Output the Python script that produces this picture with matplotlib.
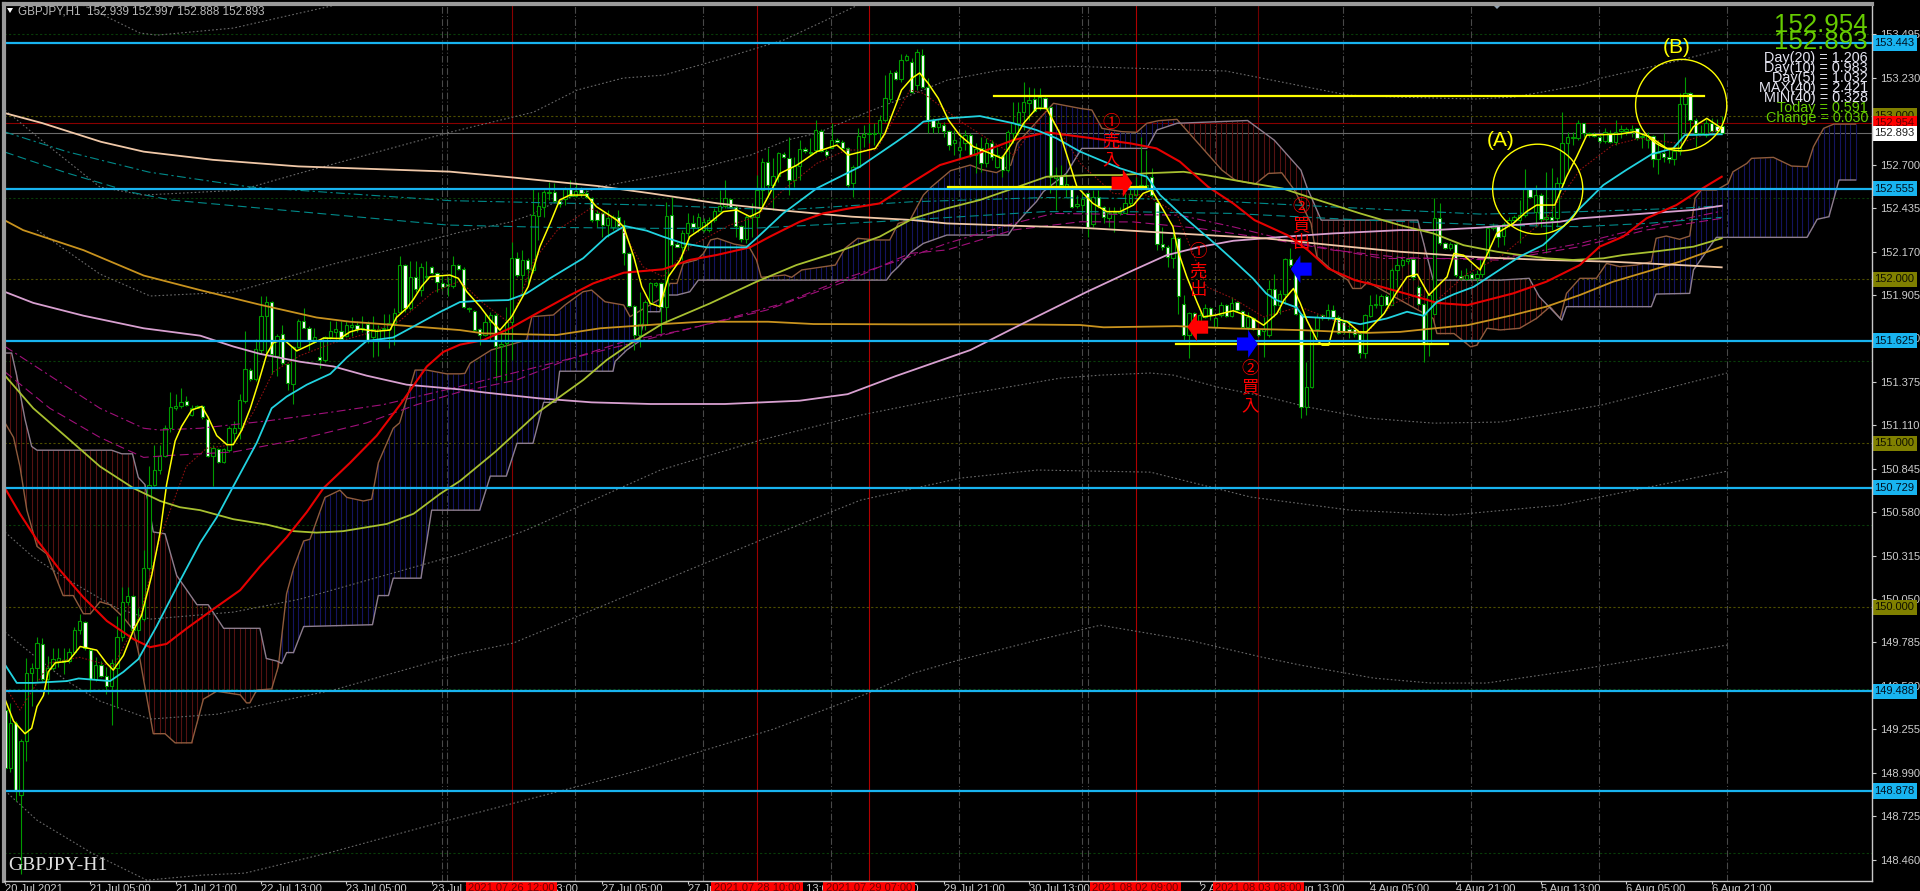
import numpy as np
import matplotlib
matplotlib.use("Agg")
import matplotlib.pyplot as plt
from matplotlib.patches import Ellipse

# GBPJPY H1 candles, one value per bar
opens = [149.372,149.017,149.294,148.853,149.183,149.598,149.627,149.776,149.561,149.627,
149.671,149.665,149.671,149.727,149.860,149.909,149.738,149.561,149.649,149.583,
149.516,149.627,149.816,150.033,150.071,149.860,149.927,150.237,150.748,150.836,
150.921,151.092,151.214,151.225,151.258,151.174,151.218,151.229,151.147,150.925,
150.963,150.888,150.958,151.063,151.092,151.258,151.447,151.391,151.569,151.780,
151.862,151.535,151.669,151.484,151.365,151.586,151.746,151.706,151.618,151.529,
151.507,151.646,151.680,151.684,151.657,151.711,151.720,151.695,151.728,151.646,
151.635,151.695,151.697,151.735,151.802,152.090,151.824,152.017,151.935,152.013,
152.079,152.039,151.977,151.975,151.961,152.090,
152.062,151.820,151.807,151.695,151.661,151.742,151.783,151.594,151.610,151.742,
152.129,152.027,152.119,152.058,152.387,152.444,152.525,152.536,152.481,152.489,
152.550,152.509,152.550,152.530,152.495,152.403,152.403,152.332,152.322,152.383,
152.332,152.163,151.838,151.661,151.722,151.854,151.966,151.980,151.830,152.393,
152.216,152.200,152.285,152.346,152.322,152.302,152.302,152.363,152.420,152.450,
152.489,152.444,152.326,152.245,152.383,152.383,152.546,152.719,152.576,152.631,
152.765,152.739,152.607,152.692,152.794,152.780,152.790,152.908,152.786,152.800,
152.851,152.841,152.800,152.586,152.688,152.871,152.885,152.885,152.891,152.973,
153.099,153.268,153.221,153.339,
153.330,153.186,153.370,153.172,152.973,152.932,152.942,152.908,152.830,152.790,
152.830,152.881,152.759,152.800,152.713,152.835,152.684,152.753,152.668,152.896,
152.953,153.024,153.075,153.099,153.050,153.105,153.050,152.617,152.631,152.570,
152.566,152.448,152.454,152.525,152.338,152.501,152.440,152.373,152.403,152.407,
152.407,152.464,152.515,152.566,152.562,152.623,152.475,152.216,152.200,152.129,
152.250,151.853,151.660,151.796,151.711,151.772,151.823,151.711,151.782,151.847,
151.776,151.864,151.809,151.707,151.766,151.695,151.687,151.660,151.939,151.843,
151.914,152.122,152.057,151.788,151.219,151.345,151.695,151.782,151.772,151.813,
151.772,151.742,151.695,151.695,151.670,151.552,151.778,151.843,151.843,151.898,
151.847,152.057,152.091,152.114,152.122,151.955,151.853,151.609,151.792,152.372,
152.220,152.195,152.215,152.024,152.002,152.032,152.006,152.036,152.128,152.311,
152.325,152.265,152.336,152.363,152.363,152.393,152.550,152.413,152.515,152.367,
152.379,152.373,152.586,152.830,152.861,152.861,152.952,152.881,152.887,152.867,
152.847,152.891,152.841,152.908,152.908,152.912,152.922,152.867,152.851,152.875,
152.733,152.773,152.745,152.733,152.786,153.070,153.136,152.973,152.896,152.881,
152.957,152.936,152.939]

closes = [149.017,149.294,148.884,149.183,149.598,149.627,149.780,149.561,149.627,149.683,
149.687,149.678,149.727,149.860,149.916,149.749,149.561,149.649,149.583,149.516,
149.660,149.816,150.033,150.071,149.860,149.927,150.237,150.748,150.836,150.921,
151.092,151.220,151.225,151.254,151.236,151.218,151.229,151.158,150.925,150.970,
150.888,150.965,151.092,151.092,151.267,151.453,151.391,151.573,151.780,151.862,
151.546,151.653,151.491,151.369,151.586,151.746,151.706,151.624,151.646,151.507,
151.646,151.684,151.697,151.635,151.720,151.724,151.697,151.706,151.631,151.697,
151.697,151.706,151.735,151.795,152.090,151.824,152.017,151.939,152.079,152.021,
152.039,151.986,151.955,151.959,152.090,152.064,
151.834,151.825,151.691,151.661,151.742,151.783,151.594,151.606,151.742,152.129,
152.027,152.119,152.062,152.393,152.450,152.536,152.530,152.481,152.460,152.550,
152.509,152.542,152.530,152.501,152.363,152.363,152.332,152.373,152.383,152.326,
152.159,151.838,151.661,151.728,151.864,151.980,151.980,151.834,152.389,152.210,
152.200,152.285,152.346,152.322,152.383,152.352,152.363,152.420,152.450,152.495,
152.444,152.326,152.245,152.379,152.393,152.546,152.719,152.576,152.631,152.769,
152.745,152.607,152.692,152.794,152.786,152.769,152.912,152.786,152.759,152.851,
152.841,152.800,152.576,152.688,152.875,152.885,152.890,152.890,152.973,153.105,
153.262,153.221,153.339,153.365,
153.143,153.388,153.176,152.973,152.932,152.953,152.908,152.820,152.851,152.810,
152.881,152.759,152.794,152.713,152.830,152.745,152.759,152.668,152.902,152.953,
153.024,153.085,153.095,153.030,153.111,153.044,152.627,152.637,152.576,152.582,
152.444,152.460,152.489,152.318,152.505,152.448,152.383,152.407,152.414,152.420,
152.464,152.521,152.570,152.576,152.574,152.515,152.216,152.200,152.135,152.251,
151.898,151.660,151.796,151.772,151.782,151.823,151.782,151.762,151.843,151.778,
151.859,151.813,151.711,151.772,151.695,151.664,151.695,151.939,151.843,151.914,
152.122,152.087,151.788,151.219,151.345,151.691,151.772,151.762,151.813,151.772,
151.674,151.680,151.682,151.666,151.552,151.782,151.847,151.853,151.898,151.847,
152.057,152.091,152.118,152.122,152.012,151.853,151.609,151.904,152.372,152.220,
152.193,152.215,152.026,152.006,152.030,152.010,152.036,152.128,152.311,152.325,
152.260,152.336,152.363,152.379,152.393,152.556,152.501,152.515,152.367,152.379,
152.363,152.586,152.830,152.867,152.871,152.957,152.891,152.891,152.875,152.847,
152.902,152.841,152.902,152.916,152.916,152.920,152.861,152.875,152.875,152.733,
152.773,152.745,152.733,152.786,153.070,153.136,152.973,152.896,152.887,152.957,
152.908,152.908,152.893]

highs = [149.439,149.416,149.305,149.194,149.687,149.660,149.816,149.811,149.705,149.749,
149.749,149.749,149.749,149.882,149.960,149.916,149.749,149.694,149.671,149.638,
149.683,149.949,150.126,150.126,150.075,149.993,150.348,150.859,150.992,150.992,
151.114,151.314,151.302,151.336,151.291,151.236,151.236,151.236,151.169,150.992,
150.970,150.970,151.103,151.136,151.302,151.684,151.458,151.635,151.902,151.902,
151.868,151.669,151.724,151.491,151.591,151.757,151.824,151.713,151.702,151.624,
151.657,151.746,151.746,151.746,151.746,151.768,151.746,151.779,151.746,151.779,
151.724,151.791,151.791,151.824,152.146,152.095,152.112,152.112,152.101,152.112,
152.084,152.046,152.024,152.012,152.146,152.097,
152.078,151.834,151.813,151.702,151.793,151.803,151.793,151.671,151.834,152.230,
152.169,152.180,152.129,152.556,152.536,152.546,152.597,152.586,152.485,152.566,
152.607,152.597,152.566,152.546,152.505,152.424,152.413,152.424,152.393,152.424,
152.363,152.169,151.844,151.925,151.875,151.986,151.986,151.986,152.475,152.505,
152.230,152.302,152.403,152.393,152.403,152.373,152.383,152.434,152.546,152.607,
152.495,152.454,152.332,152.393,152.464,152.637,152.739,152.800,152.739,152.780,
152.780,152.871,152.749,152.851,152.810,152.861,152.973,152.916,152.794,152.952,
152.861,152.851,152.810,152.698,152.922,152.942,152.952,152.952,153.003,153.247,
153.278,153.278,153.376,153.376,
153.350,153.406,153.406,153.227,152.983,152.973,152.963,152.912,152.912,152.892,
152.912,152.892,152.830,152.871,152.861,152.851,152.810,152.759,152.912,153.085,
153.085,153.207,153.176,153.166,153.166,153.115,153.054,152.688,152.698,152.647,
152.576,152.515,152.546,152.530,152.546,152.546,152.448,152.444,152.444,152.444,
152.525,152.586,152.627,152.871,152.790,152.678,152.485,152.322,152.210,152.302,
152.260,151.904,151.802,151.802,151.802,151.853,151.833,151.772,151.864,151.853,
151.894,151.868,151.813,151.803,151.772,151.701,151.772,151.996,152.036,151.935,
152.128,152.189,152.118,151.792,151.497,151.701,151.792,151.792,151.853,151.843,
151.782,151.752,151.752,151.701,151.680,151.792,151.904,151.914,151.914,151.914,
152.067,152.148,152.138,152.138,152.128,151.965,151.857,151.914,152.500,152.464,
152.230,152.230,152.220,152.057,152.067,152.047,152.057,152.134,152.321,152.342,
152.331,152.352,152.383,152.393,152.485,152.672,152.556,152.576,152.525,152.658,
152.678,152.627,153.024,152.902,152.902,152.973,152.957,152.902,152.902,152.881,
152.922,152.912,152.973,152.942,152.932,152.942,152.922,152.891,152.902,152.881,
152.851,152.891,152.800,152.810,153.136,153.237,153.146,152.983,152.942,152.977,
152.983,152.977,152.997]

lows = [148.995,148.995,148.820,148.370,149.061,149.394,149.549,149.549,149.472,149.616,
149.638,149.594,149.660,149.716,149.838,149.738,149.483,149.549,149.572,149.472,
149.283,149.383,149.793,150.015,149.849,149.793,149.916,150.226,150.737,150.814,
150.914,151.069,151.203,151.214,151.225,151.169,151.214,151.147,150.914,150.737,
150.881,150.881,150.947,151.003,151.025,151.247,151.380,151.380,151.546,151.546,
151.424,151.413,151.480,151.325,151.240,151.580,151.702,151.569,151.613,151.462,
151.498,151.635,151.635,151.631,151.646,151.657,151.680,151.680,151.613,151.524,
151.535,151.635,151.580,151.602,151.795,151.802,151.813,151.924,151.902,151.990,
152.035,151.924,151.935,151.902,151.946,152.057,
151.824,151.803,151.681,151.600,151.657,151.630,151.386,151.386,151.386,151.508,
152.017,151.915,151.966,152.037,152.241,152.383,152.485,152.475,152.444,152.454,
152.505,152.505,152.505,152.495,152.352,152.322,152.261,152.261,152.302,152.322,
152.088,151.834,151.569,151.590,151.691,151.844,151.956,151.671,151.732,152.078,
152.196,152.119,152.180,152.291,152.291,152.291,152.291,152.352,152.413,152.434,
152.434,152.261,152.230,152.220,152.261,152.322,152.434,152.505,152.424,152.597,
152.739,152.515,152.566,152.607,152.769,152.759,152.769,152.780,152.749,152.800,
152.830,152.790,152.566,152.505,152.678,152.810,152.830,152.820,152.841,152.963,
153.085,153.217,153.207,153.335,
153.135,153.156,153.170,152.892,152.892,152.892,152.871,152.790,152.759,152.739,
152.790,152.749,152.647,152.658,152.688,152.729,152.678,152.627,152.658,152.830,
152.881,152.912,152.973,153.024,153.034,153.038,152.525,152.424,152.566,152.505,
152.434,152.434,152.403,152.261,152.322,152.434,152.342,152.322,152.292,152.393,
152.403,152.448,152.509,152.546,152.546,152.505,152.180,152.180,152.078,152.068,
151.792,151.630,151.518,151.762,151.701,151.762,151.752,151.701,151.772,151.772,
151.772,151.803,151.701,151.691,151.691,151.650,151.528,151.650,151.772,151.792,
151.853,152.077,151.782,151.152,151.172,151.335,151.650,151.752,151.752,151.762,
151.670,151.670,151.640,151.650,151.518,151.518,151.772,151.823,151.772,151.843,
151.843,151.955,152.077,152.097,151.996,151.843,151.497,151.532,151.788,152.209,
152.183,152.179,152.016,151.996,151.996,151.996,151.986,152.016,152.122,152.301,
152.199,152.210,152.322,152.352,152.220,152.383,152.495,152.322,152.322,152.159,
152.302,152.322,152.576,152.668,152.820,152.851,152.871,152.871,152.867,152.830,
152.830,152.830,152.820,152.861,152.881,152.871,152.851,152.800,152.800,152.684,
152.643,152.719,152.708,152.698,152.759,152.891,152.912,152.810,152.881,152.871,
152.902,152.887,152.888]

# moving averages, (bar, price) read at the turning points
yellow_x = [0,1.6,3.75,5,6,7.2,8.1,9.4,11.9,14.1,17.2,19,20.3,22.2,24.1,25.6,27.5,29.1,30.3,31.9,33.1,35,36.9,38.1,39.7,41.6,42.8,44.4,46,47.5,49.1,50.3,52.2,54.7,57.2,59.7,62.8,64.7,66.6,69.7,72.2,73.4,75.3,76.6,78.1,79.7,
83.4,85,86.6,89.1,91,92.8,95,98.1,100.3,102.2,104,105.9,109,110.9,114.7,116,117.9,119.4,121,122.8,124.4,126.6,128.4,131.6,134.7,137.2,139.7,141.6,143.4,145.3,148.5,152.2,156,158.1,163.2,165,168.1,170,171.5,
173.1,175,176.9,179,181.6,184.7,186.9,188.8,191,193.4,195.3,197.8,199.4,201,204,206.6,209.1,211.6,213.4,215,217.2,219,
220,221.6,223.5,224.7,226.9,230.3,233.5,236,238.5,239.8,241.6,242.9,244.1,246,247,248.2,249.5,251.7,253.9,255.3,258.6,260.8,262.9,264.8,267,268.5,270.4,271.7,273.5,
276.6,279.7,282.8,285.3,287.2,290.6,292.8,294.7,296.6,302.8,305.6,308.4,311.6,314.1,316.6,319.1,321.9]
yellow_y = [149.438,149.305,149.228,149.261,149.394,149.461,149.605,149.660,149.671,149.760,149.738,149.660,149.616,149.705,149.860,149.949,150.193,150.459,150.748,151.014,151.103,151.203,151.225,151.158,151.047,150.992,150.992,151.081,151.214,151.369,151.546,151.613,151.635,151.564,151.602,151.642,151.640,151.680,151.697,151.684,151.691,151.768,151.824,151.879,151.957,152.017,
152.027,152.007,151.925,151.834,151.752,151.691,151.773,151.956,152.200,152.342,152.485,152.515,152.515,152.444,152.363,152.322,152.139,151.956,151.854,151.834,152.017,152.119,152.261,152.332,152.414,152.424,152.383,152.414,152.525,152.647,152.698,152.780,152.820,152.759,152.800,152.891,153.156,153.227,153.260,
153.197,153.105,152.973,152.881,152.810,152.770,152.739,152.830,152.953,153.044,153.044,152.892,152.729,152.566,152.464,152.414,152.414,152.454,152.525,152.546,152.424,152.322,
152.169,152.016,151.863,151.772,151.782,151.809,151.772,151.721,151.792,151.874,151.945,151.853,151.752,151.630,151.599,151.599,151.762,151.742,151.680,151.680,151.792,151.914,152.016,152.032,151.904,151.955,152.016,152.159,152.148,
152.058,152.281,152.342,152.414,152.454,152.454,152.627,152.749,152.881,152.887,152.902,152.871,152.800,152.800,152.932,152.983,152.922]

cyan_x = [0,2.2,5.3,11.6,13.8,19.7,22.2,25,28.4,32.8,36.6,39.7,42.8,47.2,50,52.8,56.6,61,64.1,67.8,72.8,76.6,81.6,85.3,
89,94.4,97.8,102.2,108.4,112.8,116.2,120.3,123.4,127.2,131.6,139,140.9,145.9,152.2,157.8,160.3,
167.2,170.3,172.2,176.6,182.8,189.1,193.4,197.2,201.6,209.1,214.1,216.6,220.3,
227.2,230.3,234,236.5,238.4,242.2,243.4,249.1,254.1,259.1,262.9,266,268.5,271.7,275.4,
279.7,284,288.4,292.2,295.3,299.7,304,308.8,312.8,315,321.9]
cyan_y = [149.649,149.538,149.538,149.549,149.565,149.549,149.605,149.683,149.882,150.160,150.393,150.548,150.737,151.003,151.214,151.285,151.358,151.424,151.524,151.624,151.646,151.713,151.802,151.862,
151.870,151.874,151.915,152.007,152.129,152.261,152.326,152.298,152.261,152.220,152.196,152.196,152.251,152.403,152.556,152.647,152.688,
152.841,152.912,152.963,152.983,152.997,152.953,152.912,152.861,152.780,152.678,152.627,152.515,152.403,
152.209,152.118,152.006,151.914,151.874,151.829,151.772,151.762,151.727,151.762,151.803,151.778,151.863,151.910,151.955,
152.047,152.139,152.210,152.322,152.434,152.576,152.668,152.765,152.800,152.881,152.886]

red_x = [0,2.8,5.9,10.3,14.7,19.1,24.1,27.2,30.3,34.1,39.1,44.1,47.8,52.8,56.6,59.7,64.7,69.7,74.1,79.1,82.2,85.3,
89.7,94.7,99.7,106,110.3,116,123.4,128.4,133.4,139.7,143.4,149,153.4,158.4,164,170.3,175.3,181.6,189.1,195.3,204,210.9,215.9,220.3,
225.6,230.3,234.3,240.5,244.3,248.1,253.1,258.1,263.7,268.5,274.2,
282.8,289,295.3,299,303.4,307.8,313.4,317.8,321.9]
red_y = [150.726,150.570,150.415,150.226,150.060,149.916,149.805,149.756,149.776,149.871,149.989,150.104,150.248,150.426,150.581,150.726,150.881,151.047,151.236,151.469,151.558,151.602,
151.630,151.702,151.793,151.905,151.976,152.041,152.062,152.119,152.149,152.196,152.261,152.352,152.403,152.434,152.464,152.597,152.698,152.759,152.851,152.898,152.861,152.831,152.800,152.719,
152.565,152.464,152.362,152.270,152.179,152.067,151.996,151.955,151.904,151.857,151.843,
151.915,151.986,152.088,152.200,152.261,152.373,152.454,152.546,152.627]

olive_x = [0,5.3,11.6,17.8,24.1,29.1,32.8,36.6,42.8,49.1,54.1,58.4,63.4,71.6,76.6,81.6,85.3,92,100,108.4,112.8,117.8,123.4,132.2,140.9,148.4,155.3,164,170.3,176.6,182.8,189.1,195.3,202.9,209.1,214.1,221,225.3,232.2,239.6,245.3,254.1,261.6,267.8,273.5,279.8,282.8,289,294,299.7,303.4,309,316.6,321.9]
olive_y = [151.413,151.214,151.036,150.859,150.726,150.648,150.610,150.592,150.537,150.504,150.464,150.455,150.464,150.508,150.570,150.692,150.770,150.950,151.190,151.386,151.508,151.620,151.732,151.854,151.986,152.088,152.159,152.261,152.373,152.434,152.485,152.556,152.627,152.637,152.637,152.648,152.657,152.636,152.596,152.555,152.494,152.403,152.331,152.281,152.209,152.169,152.155,152.129,152.119,152.129,152.149,152.169,152.200,152.251]

orange_x = [0,3.4,14.7,26,36.6,47.8,58.4,64.7,74,85.3,89.7,103.4,111.6,122.4,130.6,143.1,151.6,170.3,189.1,201.6,206,219.7,230.3,242.8,255.3,261.6,267.8,274.2,282.8,289,295.3,301.5,307.8,314,321.9]
orange_y = [152.360,152.301,152.179,152.024,151.935,151.846,151.768,151.742,151.720,151.691,151.671,151.661,151.702,151.726,151.742,151.742,151.728,151.726,151.726,151.722,151.708,151.715,151.701,151.691,151.674,151.680,151.701,151.721,151.783,151.834,151.905,151.986,152.047,152.108,152.200]

plum_x = [0,5.3,14.7,26,36.6,42.8,47.8,55.3,61.6,67.8,75.3,85.3,90,100,110,121,135,149,158,167,181,190.3,202.9,211.6,217.8,224.1,230.3,239.6,249,261.6,267.8,276.6,282.8,291.5,295.3,307.8,316.6,321.9]
plum_y = [151.924,151.857,151.779,151.702,151.657,151.591,151.546,151.498,151.469,151.413,151.358,151.329,151.310,151.275,151.250,151.240,151.240,151.260,151.300,151.410,151.569,151.722,151.925,152.057,152.148,152.199,152.236,152.260,152.281,152.301,152.301,152.316,152.332,152.352,152.373,152.403,152.424,152.450]

peach_x = [0,7,18,26,39,55,83.4,95,111.2,121.2,133.7,146.2,158.8,170,176.6,189.1,201.6,219.7,236.6,249,261.6,276.6,289,301.5,314,321.9]
peach_y = [153.015,152.954,152.840,152.780,152.730,152.690,152.658,152.623,152.570,152.525,152.464,152.420,152.383,152.363,152.342,152.328,152.316,152.281,152.250,152.209,152.169,152.135,152.119,152.108,152.088,152.074]

teal1_x = [0,11.6,27,46,83.4,121,146,170,195,211.6,230,255,276.6,289,314,321.9]
teal1_y = [152.900,152.780,152.655,152.564,152.481,152.454,152.424,152.474,152.500,152.494,152.474,152.433,152.399,152.407,152.434,152.450]
teal2_x = [0,11.6,24,31,83,102,121,140,164,195,211.6,230,255,280,295.3,307.8,321.9]
teal2_y = [152.777,152.650,152.530,152.485,152.332,152.318,152.312,152.312,152.353,152.414,152.413,152.403,152.362,152.331,152.322,152.342,152.379]

magenta1_x = [0,8.4,17.8,26,29,36.6,49,61.6,70.9,85.3,133.4,145.9,158.4,169.7,176.6,189.1,196.6,220.3,230.3,242.8,258.4,280.4,295.3,307.8,321.9]
magenta1_y = [151.591,151.413,151.214,151.092,151.081,151.092,151.136,151.192,151.236,151.347,151.742,151.854,152.017,152.139,152.220,152.342,152.403,152.392,152.321,152.220,152.128,152.128,152.220,152.322,152.417]
magenta2_x = [0,8.4,17.8,26,30.3,42.8,55.3,67.8,77.2,85.3,95.9,105.3,116,127.2,142.8,158.4,169.7,176.6,189.1,201.6,211.6,224,236.6,249,261.6,280.4,295.3,307.8,321.9]
magenta2_y = [151.436,151.214,151.036,150.914,150.925,150.947,151.025,151.125,151.236,151.314,151.386,151.508,151.620,151.691,151.813,151.997,152.159,152.180,152.302,152.352,152.351,152.311,152.250,152.179,152.134,152.118,152.200,152.302,152.373]

maroon_x = [0,2.8,8.4,14,20.3,25.3,29,34,37.8,42.8,46.6,50.3,55.3,61.6,67.8,74,80.3,85.3,89.7,94.7,99.2,103.6,109.8,114.7,119.6,123.4,128.4,135.9,140.9,145.9,152.2,157.8,163.4,169.7,172.2,179.7,189.1,195.3,201.6,207.8,214,219.7,225.3,230.3,236,242.8,249,255.3,260.3,265.3,267.8,274.2,280.4,289,295.3,301.5,306.5,314,321.9]
maroon_y = [149.516,149.372,149.660,149.694,149.638,149.949,150.415,150.859,150.970,150.992,151.192,151.436,151.535,151.613,151.669,151.746,151.924,151.990,151.854,151.732,152.119,152.302,152.434,152.363,152.078,152.017,152.200,152.332,152.383,152.546,152.708,152.790,152.790,153.156,153.136,152.953,152.759,153.034,152.709,152.525,152.515,152.403,151.955,151.884,151.772,151.833,151.752,151.670,151.853,151.914,151.853,152.036,152.138,152.373,152.668,152.820,152.861,152.830,152.922]

# ichimoku spans, they run 26 bars past the last candle
span_a_x = [0,1.6,2.8,4.1,6,7.8,10.9,12.8,14.7,16,17.8,19.7,22.2,24.1,25.3,27.8,30,31.9,35,37.2,39.7,44.1,45.3,45.9,47.2,50,51.25,52.8,54.1,56,57.2,60,62.8,64.1,67.2,68.75,70,72.8,74,76.9,79.1,82.8,85.3,
86.25,87.2,91.2,97.8,98.8,102.8,105,108.4,110,112.5,116,117.2,123.6,124.7,126,127.2,129.7,131,132.3,133.6,136.7,139.5,140.9,141.8,146.25,147.5,149.4,154.4,155.7,157.5,159.9,163.4,165.9,167.5,169.7,172.2,
173.75,177.3,181,183,185.9,188.6,189.8,196.6,201.6,203.8,205.7,209.4,212.2,214.1,216.3,219.75,228.2,230.7,234.4,236.9,239.4,241.8,244.9,245.4,246,248.8,251.8,252.7,254.3,255.5,267.8,268.5,271.7,274.8,276,
277.9,280.4,284,287.2,289.7,291.6,292.8,295.3,298.4,300.3,302.8,305.9,308.7,309.6,311.5,314,315.9,316.9,318.1,320.9,323.1,324,326.6,327.5,331.6,335,337.9,339.1,341,342.9,347]
span_a_y = [151.125,151.036,150.859,150.592,150.371,150.326,150.071,150.071,149.960,149.960,150.033,150.015,149.938,149.860,149.683,149.228,149.228,149.172,149.172,149.439,149.487,149.465,149.416,149.416,149.494,149.501,149.638,150.082,150.237,150.404,150.415,150.670,150.714,150.670,150.648,150.659,150.881,151.092,151.125,151.447,151.447,151.424,151.424,
151.427,151.488,151.570,151.630,151.773,151.783,151.844,151.925,151.935,151.864,151.844,151.773,151.895,151.976,151.976,152.098,152.119,152.159,152.241,152.251,152.216,152.200,152.119,152.013,152.027,152.013,152.058,152.082,152.088,152.190,152.251,152.241,152.241,152.342,152.363,152.515,
152.566,152.664,152.698,152.672,152.652,152.698,152.831,153.075,153.044,153.034,152.922,152.902,152.898,152.953,152.969,152.977,152.667,152.606,152.582,152.647,152.651,152.545,152.342,152.240,152.138,152.057,151.996,151.945,151.945,151.985,151.762,151.670,151.670,151.589,151.599,
151.702,151.692,151.702,151.763,151.834,151.763,151.915,152.007,152.007,152.098,152.078,152.088,152.108,152.251,152.265,152.245,152.265,152.495,152.546,152.546,152.586,152.657,152.708,152.739,152.745,152.692,152.688,152.810,152.922,152.948,152.948]

span_b_x = [0,1.25,2.2,3.75,5,6,20,21.9,23.9,25,26.25,27.8,30,32.2,36,38.1,41,47.8,49,51,51.9,52.8,54.1,56,68.9,70,71.9,72.8,78,80,85.3,89,91,94,96,99,101,103.3,104,114,114.4,116.6,118.8,120.3,122.8,123.4,126,128.4,130,165.3,166.2,167.5,170,172.2,176.6,188.1,189.4,191.9,193.4,194.7,199,201.9,214.1,216,219.75,233,238,243,244.1,246.8,264.9,267.8,280.4,285.8,287.7,291.9,292.8,308.7,309.6,315.9,316.6,320.9,337.9,339.8,342,343.9,347]
span_b_y = [151.551,151.551,151.413,151.147,150.981,150.958,150.958,150.936,150.936,150.792,150.748,150.459,150.448,150.193,150.015,150.015,149.871,149.871,149.687,149.671,149.656,149.723,149.723,149.882,149.893,150.071,150.071,150.177,150.177,150.592,150.592,150.592,150.800,150.800,151.000,151.000,151.250,151.250,151.440,151.440,151.500,151.570,151.620,151.803,151.803,151.905,151.905,151.925,151.996,151.996,152.037,152.078,152.169,152.220,152.271,152.271,152.332,152.424,152.475,152.536,152.647,152.800,152.800,152.912,152.953,152.970,152.850,152.667,152.565,152.362,152.362,151.996,151.996,152.007,151.895,151.752,151.834,151.834,151.911,151.915,152.058,152.257,152.257,152.367,152.383,152.607,152.607]

# envelope bands, dotted grey
band1_x = [14.6,25.3,28.5,42.8,55.3,62.9]
band1_y = [153.674,153.504,153.491,153.534,153.626,153.681]
band2_x = [0,8.4,17.8,25.9,44.1,55.3,83.5,99.1,107.3,115.9,123.5,133.6,146,160.4]
band2_y = [153.034,152.808,152.564,152.515,152.545,152.649,152.899,153.021,153.156,153.229,153.247,153.339,153.461,153.681]
band3_x = [6,17.8,27.2,42.8,61.5,85.4,94.7,98.5,102.8,112.2,122.3,131,139.8,146.7,152.3,161.7,169.8,176.7,186.7,198.9,228.9,251.8,261.2,275.4,282.9,295.5,299.3,314.3,322.1]
band3_y = [152.301,152.033,151.899,151.923,152.094,152.289,152.350,152.393,152.466,152.570,152.631,152.686,152.759,152.851,152.893,153.021,153.125,153.217,153.278,153.302,153.272,153.125,153.113,153.101,153.113,153.186,153.229,153.339,153.406]
band4_x = [0,5.3,11.6,21,27.2,42.8,55.3,85.4,97.7,122.9,141.7,160.4,179.2,197.9,205.4,214.8,219.1,227.4,236.8,244.3,255.5,267.9,280.5,299.3,322.9]
band4_y = [150.458,150.305,150.171,149.994,149.927,149.970,150.049,150.324,150.470,150.837,151.020,151.172,151.294,151.398,151.416,151.429,151.416,151.343,151.282,151.221,151.154,151.123,151.130,151.233,151.429]
band5_x = [0,5.3,11.6,17.8,27.2,39.8,61.5,85.4,95.3,119.1,141.7,160.4,179.2,193.6,214.8,233.6,252.3,271.1,291.7,322.9]
band5_y = [149.848,149.708,149.549,149.427,149.317,149.347,149.494,149.714,149.781,150.104,150.409,150.653,150.788,150.837,150.824,150.672,150.592,150.562,150.623,150.830]
band6_x = [0,6,16.3,26.6,37,45,61.2,81.8,119.1,144.1,161.9,170.4,178.8,193.6,205.4,221.9,235.7,243,256.7,267.4,277.8,294.5,322.9]
band6_y = [148.880,148.700,148.499,148.334,148.365,148.377,148.505,148.688,149.006,149.256,149.476,149.598,149.677,149.799,149.890,149.799,149.695,149.646,149.567,149.537,149.537,149.616,149.769]

# levels and axis labels
blue_levels = [153.443, 152.555, 151.625, 150.729, 149.488, 148.878]
round_levels = [153.0, 152.0, 151.0, 150.0]
half_levels = [153.5, 152.5, 151.5, 150.5, 149.5, 148.5]
price_ticks = [153.495,153.230,152.700,152.435,152.170,151.905,151.640,151.375,151.110,150.845,150.580,150.315,150.050,149.785,149.520,149.255,148.990,148.725,148.460]
time_labels = ["20 Jul 2021","21 Jul 05:00","21 Jul 21:00","22 Jul 13:00","23 Jul 05:00","23 Jul 21:00","26 Jul 13:00","27 Jul 05:00","27 Jul 21:00","28 Jul 13:00","29 Jul 05:00","29 Jul 21:00","30 Jul 13:00","2 Aug 05:00","2 Aug 21:00","3 Aug 13:00","4 Aug 05:00","4 Aug 21:00","5 Aug 13:00","6 Aug 05:00","6 Aug 21:00"]
time_ticks = [16*k for k in range(len(time_labels))]
sep_bars = [81.9,82.9,106.9,130.9,154.9,178.9,202,203,226.9,250.9,274.9,298.9,322.9]
red_bars = [95,141,162,212,235]
red_stamps = ["2021.07.26 12:00","2021.07.28 10:00","2021.07.29 07:00","2021.08.02 09:00","2021.08.03 08:00"]
red_colors = ["#8a0000","#9a0000","#b00000","#b00000","#6e0000"]

W, H = 1920, 891
plt.rcParams["font.family"] = ["Liberation Sans", "DejaVu Sans"]
fig = plt.figure(figsize=(W/100, H/100), dpi=100, facecolor="black")
# plot area is x 4..1872 and y 4..881 in pixels
ax = fig.add_axes([4/W, 1-881/H, (1872-4)/W, (881-4)/H], facecolor="black")
ax.set_xlim(-0.1875, 350.08)
ax.set_ylim(148.329, 153.681)

for y in round_levels:
    ax.axhline(y, color="#4e4e00", lw=0.8, ls=(0, (2, 2)), zorder=1)
for y in half_levels:
    ax.axhline(y, color="#093c09", lw=0.8, ls=(0, (2, 2)), zorder=1)
for x in sep_bars:
    ax.axvline(x, color="#484848", lw=0.8, ls=(0, (6, 2, 1, 2)), zorder=1)
for x, c in zip(red_bars, red_colors):
    ax.axvline(x, color=c, lw=0.8, zorder=1)
ax.axhline(152.954, color="#8a0000", lw=0.8, zorder=1.5)
ax.axhline(152.893, color="#6a6a6a", lw=0.8, zorder=1.5)

# cloud hatch, one stroke per bar
cloud_bars = np.arange(0, 348)
a_vals = np.interp(cloud_bars, span_a_x, span_a_y)
b_vals = np.interp(cloud_bars, span_b_x, span_b_y)
hatch_colors = ["#541212" if a < b else "#14145f" for a, b in zip(a_vals, b_vals)]
ax.vlines(cloud_bars, a_vals, b_vals, colors=hatch_colors, lw=0.8, zorder=2)
ax.plot(span_a_x, span_a_y, color="#8f5b3d", lw=1, zorder=3)
ax.plot(span_b_x, span_b_y, color="#8d7d8d", lw=1, zorder=3)

for bx, by in [(band1_x, band1_y), (band2_x, band2_y), (band3_x, band3_y),
               (band4_x, band4_y), (band5_x, band5_y), (band6_x, band6_y)]:
    ax.plot(bx, by, color="#6a6a6a", lw=0.8, ls=(0, (1.5, 2)), zorder=3)

# candles, up bars are hollow and down bars are white
bars = np.arange(len(closes))
opens_a = np.array(opens)
closes_a = np.array(closes)
ax.vlines(bars, lows, highs, colors="#009a00", lw=0.8, zorder=5)
body_low = np.minimum(opens_a, closes_a)
body_h = np.maximum(np.abs(closes_a-opens_a), 0.006)
body_fc = ["black" if c >= o else "white" for o, c in zip(opens, closes)]
ax.bar(bars, body_h, bottom=body_low, width=0.66, color=body_fc, edgecolor="#009a00", lw=0.8, zorder=6)

ax.plot(magenta1_x, magenta1_y, color="#a0107a", lw=0.8, ls=(0, (8, 3, 2, 3)), zorder=7)
ax.plot(magenta2_x, magenta2_y, color="#a0107a", lw=0.8, ls=(0, (8, 4)), zorder=7)
ax.plot(teal1_x, teal1_y, color="#008a8a", lw=0.8, ls=(0, (8, 3, 2, 3)), zorder=7)
ax.plot(teal2_x, teal2_y, color="#008a8a", lw=0.8, ls=(0, (8, 4)), zorder=7)
ax.plot(maroon_x, maroon_y, color="#8a1010", lw=0.8, ls=(0, (1.5, 1.5)), zorder=7)
ax.plot(orange_x, orange_y, color="#c8921e", lw=1.3, zorder=8)
ax.plot(plum_x, plum_y, color="#d8a0d0", lw=1.3, zorder=8)
ax.plot(peach_x, peach_y, color="#f0c8a8", lw=1.3, zorder=8)
ax.plot(olive_x, olive_y, color="#a8c030", lw=1.3, zorder=8)
ax.plot(red_x, red_y, color="#e60000", lw=1.5, zorder=9)
ax.plot(cyan_x, cyan_y, color="#22d3e0", lw=1.3, zorder=9)
ax.plot(yellow_x, yellow_y, color="#ffff00", lw=1.1, zorder=10)

for y in blue_levels:
    ax.axhline(y, color="#18b4f0", lw=1.6, zorder=11)

# hand drawn trend lines and markers
ax.plot([185.5, 318.6], [153.119, 153.119], color="#ffff00", lw=1.6, zorder=12)
ax.plot([219.5, 270.5], [151.606, 151.606], color="#ffff00", lw=1.6, zorder=12)
ax.plot([176.9, 213.9], [152.563, 152.563], color="#ffff00", lw=1.6, zorder=12)
ax.add_patch(Ellipse((287.4, 152.551), 16.9, 0.549, fc="none", ec="#ffff00", lw=1, zorder=12))
ax.add_patch(Ellipse((314.3, 153.064), 17.1, 0.558, fc="none", ec="#ffff00", lw=1, zorder=12))
ax.text(280.5, 152.845, "(A)", color="#ffff00", fontsize=15, ha="center", va="center", zorder=13)
ax.text(313.5, 153.418, "(B)", color="#ffff00", fontsize=15, ha="center", va="center", zorder=13)


def block_arrow(tip, price, direction, color):
    # direction +1 points right, -1 points left
    xs = np.array([0, -1.8, -1.8, -3.9, -3.9, -1.8, -1.8, 0])*direction + tip
    ys = np.array([0, 0.085, 0.04, 0.04, -0.04, -0.04, -0.085, 0]) + price
    ax.fill(xs, ys, color=color, lw=0, zorder=14)


block_arrow(211.4, 152.588, 1, "#ff0000")
block_arrow(221.7, 151.709, -1, "#ff0000")
block_arrow(234.9, 151.606, 1, "#0000ff")
block_arrow(241.1, 152.063, -1, "#0000ff")

note_font = ["Noto Sans CJK JP", "DejaVu Sans"]
for x, y, s in [(207.4, 152.954, "①"), (207.4, 152.839, "売"), (207.4, 152.729, "入"),
                (223.7, 152.167, "①"), (223.7, 152.045, "売"), (223.7, 151.935, "出"),
                (243, 152.442, "②"), (243, 152.332, "買"), (243, 152.222, "出"),
                (233.5, 151.453, "②"), (233.5, 151.343, "買"), (233.5, 151.227, "入")]:
    ax.text(x, y, s, color="#ff0000", fontsize=12.5, family=note_font, ha="center", va="center", zorder=15)

# header and corner texts
ax.text(18/W, 1-11/H, "GBPJPY,H1  152.939 152.997 152.888 152.893", transform=fig.transFigure,
        color="#b8b8b8", fontsize=8.4, va="center", zorder=20)
ax.fill([7/W, 13/W, 10/W], [1-8/H, 1-8/H, 1-13/H], transform=fig.transFigure, color="white", lw=0, clip_on=False, zorder=20)
ax.fill([1492/W, 1502/W, 1497/W], [1-4/H, 1-4/H, 1-9/H], transform=fig.transFigure, color="#8fa0b0", lw=0, clip_on=False, zorder=20)
ax.text(8/W, 1-865/H, "GBPJPY-H1", transform=fig.transFigure, color="#e0e0e0",
        fontsize=14, family="Liberation Serif", va="center", zorder=20)

green = "#66cc00"
ax.text(1868/W, 1-25/H, "152.954", transform=fig.transFigure, color=green, fontsize=18.6, ha="right", va="center", zorder=20)
ax.text(1868/W, 1-42/H, "152.893", transform=fig.transFigure, color=green, fontsize=18.6, ha="right", va="center", zorder=20)
info_rows = ["Day(20) = 1.206", "Day(10) = 0.983", "Day(5) = 1.032", "MAX(40) = 2.421", "MIN(40) = 0.328", "Today = 0.591", "Change = 0.030"]
info_ypx = [58, 68, 78, 88, 98, 108, 118]
info_colors = ["#e4e4f0"]*5 + [green]*2
for s, py, c in zip(info_rows, info_ypx, info_colors):
    ax.text(1868/W, 1-py/H, s, transform=fig.transFigure, color=c, fontsize=10.4, ha="right", va="center", zorder=20)

# axes
ax.yaxis.tick_right()
ax.set_yticks(price_ticks)
ax.set_yticklabels([f"{v:.3f}" for v in price_ticks])
ax.set_xticks(time_ticks)
ax.set_xticklabels(time_labels, ha="left")
ax.tick_params(axis="y", colors="#cccccc", labelsize=8, length=3, width=0.8, pad=3)
ax.tick_params(axis="x", colors="#cccccc", labelsize=8, length=2, width=0.8, pad=0)
for name, c, w in [("left", "#9a9a9a", 3), ("top", "#9a9a9a", 3), ("right", "#c8c8c8", 1), ("bottom", "#c8c8c8", 1)]:
    ax.spines[name].set_color(c)
    ax.spines[name].set_linewidth(w)
    ax.spines[name].set_zorder(30)

yax = ax.get_yaxis_transform()
for y in blue_levels:
    ax.text(1.0012, y, f"{y:.3f}", transform=yax, color="#001020", fontsize=8, va="center", clip_on=False, zorder=22,
            bbox=dict(fc="#18b4f0", ec="none", pad=1.8))
for y in round_levels:
    ax.text(1.0012, y, f"{y:.3f}", transform=yax, color="#101000", fontsize=8, va="center", clip_on=False, zorder=22,
            bbox=dict(fc="#808000", ec="none", pad=1.8))
ax.text(1.0012, 152.954, "152.954", transform=yax, color="#600000", fontsize=8, va="center", clip_on=False, zorder=22,
        bbox=dict(fc="#ff0000", ec="none", pad=1.8))
ax.text(1.0012, 152.893, "152.893", transform=yax, color="#202020", fontsize=8, va="center", clip_on=False, zorder=23,
        bbox=dict(fc="#ffffff", ec="none", pad=1.8))

xax = ax.get_xaxis_transform()
for x, s in zip(red_bars, red_stamps):
    ax.text(x, -0.0085, s, transform=xax, color="#700000", fontsize=8, ha="center", va="center", clip_on=False, zorder=22,
            bbox=dict(fc="#ff0000", ec="none", pad=1.8))

fig.savefig("out.png", dpi=100, facecolor="black")
